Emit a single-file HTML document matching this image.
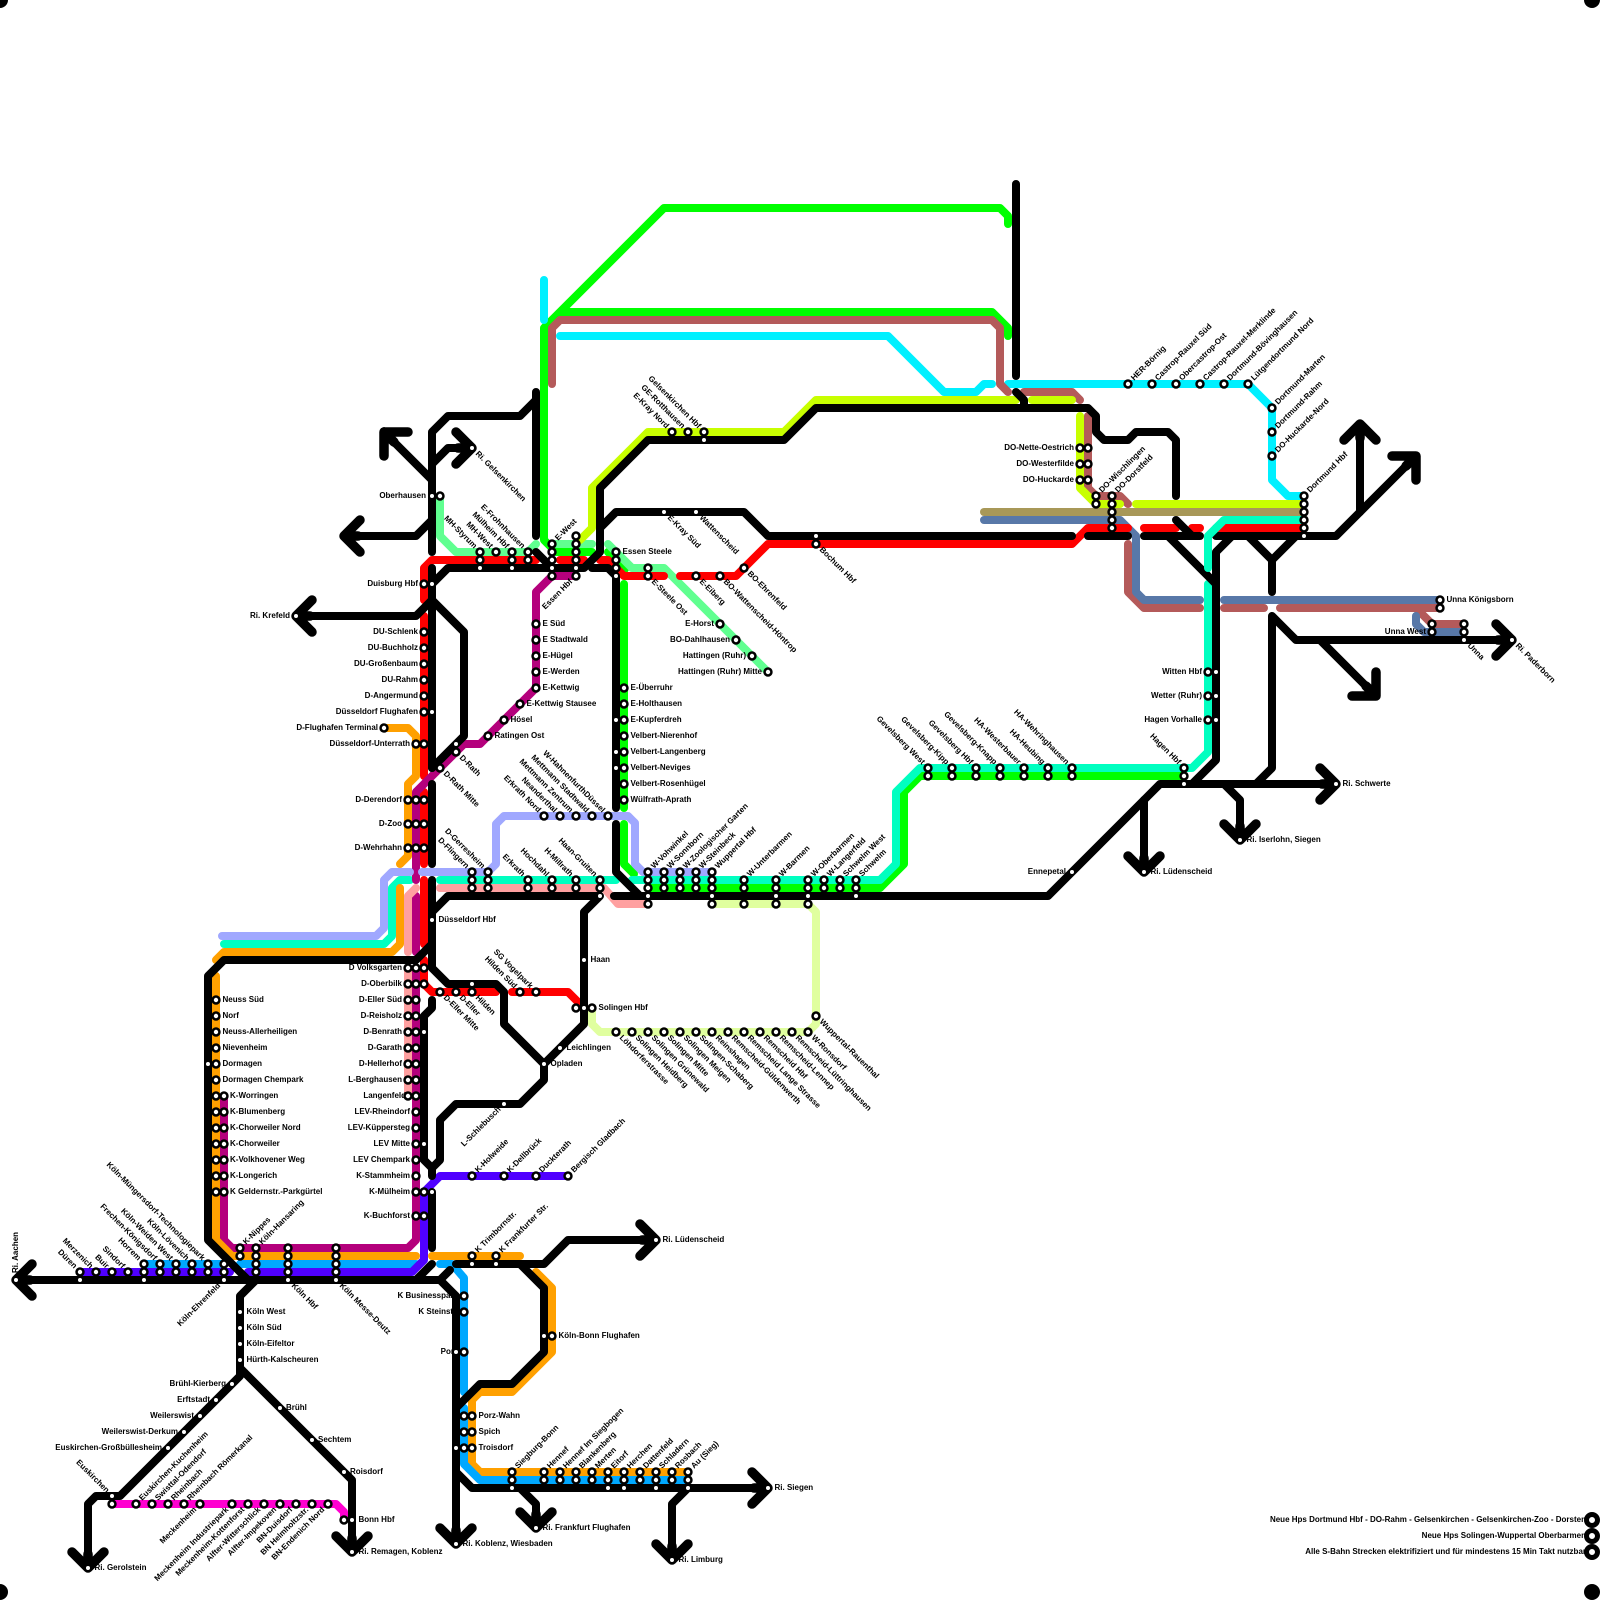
<!DOCTYPE html>
<html><head><meta charset="utf-8"><style>
html,body{margin:0;padding:0;background:#fff}
svg{display:block}
text{font-family:"Liberation Sans",sans-serif;font-weight:bold;font-size:8px;fill:#000;dominant-baseline:middle}
.e{text-anchor:end}
.l path{fill:none;stroke-width:8;stroke-linecap:round;stroke-linejoin:round}
.k path{stroke:#000}
.a path{fill:none;stroke:#000;stroke-width:9.5;stroke-linecap:round;stroke-linejoin:round}
.c circle{r:3.45px;fill:#fff;stroke:#000;stroke-width:2.5px}
.s circle{r:2.6px;fill:#fff;stroke:#000;stroke-width:1.2px}
</style></head><body>
<svg xmlns="http://www.w3.org/2000/svg" width="1600" height="1600" viewBox="0 0 1600 1600">
<rect width="1600" height="1600" fill="#fff"/>
<!-- coloured lines -->
<g class="l">
<path stroke="#00ff00" d="M1008 224V216L1000 208H664L544 328V540L556 552H592M560 312H992L1008 328V336M608 552L625 569M624 584V808M624 824V864L634 874M648 888H880L904 864V792L920 776H1184"/>
<path stroke="#60ff90" d="M440 496V536L456 552H528L536 544M556 544H592M608 544L632 568H664L768 672"/>
<path stroke="#00f0ff" d="M544 280V320M560 336H888L944 392H976L984 384H992M1008 384H1248L1272 408V480L1288 496H1304"/>
<path stroke="#b45a5a" d="M552 384V328L560 320H992L1000 328V384L1008 392M1024 392H1072L1080 400M1088 416V488L1096 496H1120L1128 504M1128 544V592L1144 608H1200M1224 608H1264M1280 608H1440M1416 608L1432 624H1464"/>
<path stroke="#c8ff00" d="M580 540L592 528V488L648 432H784L816 400H1016M1032 400H1072M1080 416V488L1096 504H1120M1136 504H1304"/>
<path stroke="#a89858" d="M984 512H1304"/>
<path stroke="#5878a8" d="M984 520H1120L1136 536V592L1144 600H1200M1224 600H1440M1416 616V624L1424 632H1464"/>
<path stroke="#00ffc0" d="M1208 584V752L1192 768H920L896 792V864L880 880H632M616 880H440M410 880H400L392 888V936L384 944H224"/>
<path stroke="#ff0000" d="M424 600V568L432 560H536M560 560H584M600 560H608L624 576H664M680 576H736L768 544H1072L1088 528H1128M1144 528H1176M1192 528H1200M1216 528H1304M424 616V776M424 792V864M424 880V944M424 960V984L432 992H496M512 992H568L580 1004"/>
<path stroke="#b4007c" d="M576 576H552L536 592V688L480 744H464L416 792V880M416 896V952M416 968V1240L408 1248H232L224 1240V1096"/>
<path stroke="#ffa000" d="M384 728H408L416 736V776L408 784V856L400 864M400 888V944L392 952H224L216 960M216 976V1240L232 1256H416M432 1256H520M536 1272L552 1288V1352L512 1392H480L472 1400V1464L480 1472H688"/>
<path stroke="#00a8ff" d="M144 1264H224M240 1264H416M440 1264H452L464 1278V1392M464 1408V1464L480 1480H688"/>
<path stroke="#5000ff" d="M80 1272H230M248 1272H412L424 1260V1192L440 1176H568"/>
<path stroke="#a0a8ff" d="M222 936H376L384 928V880L392 872H410M422 872H488L496 864V824L504 816H628L635 823V864L643 872H712"/>
<path stroke="#ffa0a0" d="M416 888L408 896V952M408 968V1096M440 888H604L618 904H648"/>
<path stroke="#e0ff9f" d="M592 1008V1024L600 1032H808L816 1024V912L808 904H712"/>
<path stroke="#ff00d0" d="M112 1504H336L344 1512V1520"/>
</g>
<!-- labels -->
<g>
<text transform="translate(16 1280)rotate(-90)" x="7">Ri. Aachen</text>
<text class="e" transform="translate(80 1272)rotate(45)" x="-6.5">Düren</text>
<text class="e" transform="translate(96 1272)rotate(45)" x="-6.5">Merzenich</text>
<text class="e" transform="translate(112 1272)rotate(45)" x="-6.5">Buir</text>
<text class="e" transform="translate(128 1272)rotate(45)" x="-6.5">Sindorf</text>
<text class="e" transform="translate(144 1264)rotate(45)" x="-6.5">Horrem</text>
<text class="e" transform="translate(160 1264)rotate(45)" x="-6.5">Frechen-Königsdorf</text>
<text class="e" transform="translate(176 1264)rotate(45)" x="-6.5">Köln-Weiden West</text>
<text class="e" transform="translate(192 1264)rotate(45)" x="-6.5">Köln-Lövenich</text>
<text class="e" transform="translate(208 1264)rotate(45)" x="-6.5">Köln-Müngersdorf-Technologiepark</text>
<text class="e" transform="translate(224 1280)rotate(-45)" x="-6.5">Köln-Ehrenfeld</text>
<text transform="translate(240 1248)rotate(-45)" x="6.5">K-Nippes</text>
<text transform="translate(256 1248)rotate(-45)" x="6.5">Köln-Hansaring</text>
<text transform="translate(288 1280)rotate(45)" x="6.5">Köln Hbf</text>
<text transform="translate(336 1280)rotate(45)" x="6.5">Köln Messe-Deutz</text>
<text x="246.500" y="1312">Köln West</text>
<text x="246.500" y="1328">Köln Süd</text>
<text x="246.500" y="1344">Köln-Eifeltor</text>
<text x="246.500" y="1360">Hürth-Kalscheuren</text>
<text class="e" x="226" y="1384">Brühl-Kierberg</text>
<text class="e" x="210" y="1400">Erftstadt</text>
<text class="e" x="194" y="1416">Weilerswist</text>
<text class="e" x="178" y="1432">Weilerswist-Derkum</text>
<text class="e" x="162" y="1448">Euskirchen-Großbüllesheim</text>
<text x="286" y="1408">Brühl</text>
<text x="318" y="1440">Sechtem</text>
<text x="350" y="1472">Roisdorf</text>
<text class="e" transform="translate(112 1496)rotate(45)" x="-6">Euskirchen</text>
<text transform="translate(136 1504)rotate(-45)" x="6.5">Euskirchen-Kuchenheim</text>
<text transform="translate(152 1504)rotate(-45)" x="6.5">Swisttal-Odendorf</text>
<text transform="translate(168 1504)rotate(-45)" x="6.5">Rheinbach</text>
<text transform="translate(184 1504)rotate(-45)" x="6.5">Rheinbach Römerkanal</text>
<text class="e" transform="translate(200 1504)rotate(-45)" x="-6.5">Meckenheim</text>
<text class="e" transform="translate(232 1504)rotate(-45)" x="-6.5">Meckenheim Industriepark</text>
<text class="e" transform="translate(248 1504)rotate(-45)" x="-6.5">Meckenheim-Kottenforst</text>
<text class="e" transform="translate(264 1504)rotate(-45)" x="-6.5">Alfter-Witterschlick</text>
<text class="e" transform="translate(280 1504)rotate(-45)" x="-6.5">Alfter-Impekoven</text>
<text class="e" transform="translate(296 1504)rotate(-45)" x="-6.5">BN-Duisdorf</text>
<text class="e" transform="translate(312 1504)rotate(-45)" x="-6.5">BN Helmholtzstr.</text>
<text class="e" transform="translate(328 1504)rotate(-45)" x="-6.5">BN-Endenich Nord</text>
<text x="358.500" y="1520">Bonn Hbf</text>
<text x="358.500" y="1552">Ri. Remagen, Koblenz</text>
<text x="94.500" y="1568">Ri. Gerolstein</text>
<text x="222.500" y="1000">Neuss Süd</text>
<text x="222.500" y="1016">Norf</text>
<text x="222.500" y="1032">Neuss-Allerheiligen</text>
<text x="222.500" y="1048">Nievenheim</text>
<text x="222.500" y="1064">Dormagen</text>
<text x="222.500" y="1080">Dormagen Chempark</text>
<text x="230" y="1096">K-Worringen</text>
<text x="230" y="1112">K-Blumenberg</text>
<text x="230" y="1128">K-Chorweiler Nord</text>
<text x="230" y="1144">K-Chorweiler</text>
<text x="230" y="1160">K-Volkhovener Weg</text>
<text x="230" y="1176">K-Longerich</text>
<text x="230" y="1192">K Geldernstr.-Parkgürtel</text>
<text class="e" x="418" y="632">DU-Schlenk</text>
<text class="e" x="418" y="648">DU-Buchholz</text>
<text class="e" x="418" y="664">DU-Großenbaum</text>
<text class="e" x="418" y="680">DU-Rahm</text>
<text class="e" x="418" y="696">D-Angermund</text>
<text class="e" x="418" y="712">Düsseldorf Flughafen</text>
<text class="e" x="378" y="728">D-Flughafen Terminal</text>
<text class="e" x="410" y="744">Düsseldorf-Unterrath</text>
<text class="e" x="402" y="800">D-Derendorf</text>
<text class="e" x="402" y="824">D-Zoo</text>
<text class="e" x="402" y="848">D-Wehrhahn</text>
<text class="e" x="402" y="968">D Volksgarten</text>
<text class="e" x="402" y="984">D-Oberbilk</text>
<text class="e" x="402" y="1000">D-Eller Süd</text>
<text class="e" x="402" y="1016">D-Reisholz</text>
<text class="e" x="402" y="1032">D-Benrath</text>
<text class="e" x="402" y="1048">D-Garath</text>
<text class="e" x="402" y="1064">D-Hellerhof</text>
<text class="e" x="402" y="1080">L-Berghausen</text>
<text class="e" x="406" y="1096">Langenfeld</text>
<text class="e" x="410" y="1112">LEV-Rheindorf</text>
<text class="e" x="410" y="1128">LEV-Küppersteg</text>
<text class="e" x="410" y="1144">LEV Mitte</text>
<text class="e" x="410" y="1160">LEV Chempark</text>
<text class="e" x="410" y="1176">K-Stammheim</text>
<text class="e" x="410" y="1192">K-Mülheim</text>
<text class="e" x="410" y="1216">K-Buchforst</text>
<text transform="translate(456 752)rotate(45)" x="6.5">D-Rath</text>
<text transform="translate(440 768)rotate(45)" x="6.5">D-Rath Mitte</text>
<text x="494.500" y="736">Ratingen Ost</text>
<text x="510.500" y="720">Hösel</text>
<text x="526.500" y="704">E-Kettwig Stausee</text>
<text x="542.500" y="688">E-Kettwig</text>
<text x="542.500" y="672">E-Werden</text>
<text x="542.500" y="656">E-Hügel</text>
<text x="542.500" y="640">E Stadtwald</text>
<text x="542.500" y="624">E Süd</text>
<text class="e" x="418" y="584">Duisburg Hbf</text>
<text class="e" x="426" y="496">Oberhausen</text>
<text class="e" x="290" y="616">Ri. Krefeld</text>
<text transform="translate(472 448)rotate(45)" x="6.500">Ri. Gelsenkirchen</text>
<text class="e" transform="translate(480 552)rotate(45)" x="-6.5">MH-Styrum</text>
<text class="e" transform="translate(496 552)rotate(45)" x="-6.5">MH-West</text>
<text class="e" transform="translate(512 552)rotate(45)" x="-6.5">Mülheim Hbf</text>
<text class="e" transform="translate(528 552)rotate(45)" x="-6.5">E-Frohnhausen</text>
<text transform="translate(552 544)rotate(-45)" x="6.5">E-West</text>
<text class="e" transform="translate(576 576)rotate(-45)" x="-6.5">Essen Hbf</text>
<text x="622.500" y="552">Essen Steele</text>
<text transform="translate(648 576)rotate(45)" x="6.5">E-Steele Ost</text>
<text transform="translate(696 576)rotate(45)" x="6.5">E-Eiberg</text>
<text transform="translate(720 576)rotate(45)" x="6.5">BO-Wattenscheid-Höntrop</text>
<text transform="translate(744 568)rotate(45)" x="6.5">BO-Ehrenfeld</text>
<text transform="translate(816 544)rotate(45)" x="6.5">Bochum Hbf</text>
<text transform="translate(664 512)rotate(45)" x="6.5">E-Kray Süd</text>
<text transform="translate(696 512)rotate(45)" x="6.5">Wattenscheid</text>
<text class="e" x="714" y="624">E-Horst</text>
<text class="e" x="730" y="640">BO-Dahlhausen</text>
<text class="e" x="746" y="656">Hattingen (Ruhr)</text>
<text class="e" x="762" y="672">Hattingen (Ruhr) Mitte</text>
<text class="e" transform="translate(672 432)rotate(45)" x="-6.5">E-Kray Nord</text>
<text class="e" transform="translate(688 432)rotate(45)" x="-6.5">GE-Rotthausen</text>
<text class="e" transform="translate(704 432)rotate(45)" x="-6.5">Gelsenkirchen Hbf</text>
<text x="630.500" y="688">E-Überruhr</text>
<text x="630.500" y="704">E-Holthausen</text>
<text x="630.500" y="720">E-Kupferdreh</text>
<text x="630.500" y="736">Velbert-Nierenhof</text>
<text x="630.500" y="752">Velbert-Langenberg</text>
<text x="630.500" y="768">Velbert-Neviges</text>
<text x="630.500" y="784">Velbert-Rosenhügel</text>
<text x="630.500" y="800">Wülfrath-Aprath</text>
<text class="e" transform="translate(544 816)rotate(45)" x="-6.5">Erkrath Nord</text>
<text class="e" transform="translate(560 816)rotate(45)" x="-6.5">Neanderthal</text>
<text class="e" transform="translate(576 816)rotate(45)" x="-6.5">Mettmann Zentrum</text>
<text class="e" transform="translate(592 816)rotate(45)" x="-6.5">Mettmann Stadtwald</text>
<text class="e" transform="translate(608 816)rotate(45)" x="-6.5">W-HahnenfurthDüssel</text>
<text class="e" transform="translate(472 872)rotate(45)" x="-6.5">D-Flingern</text>
<text class="e" transform="translate(488 872)rotate(45)" x="-6.5">D-Gerresheim</text>
<text class="e" transform="translate(528 880)rotate(45)" x="-6.5">Erkrath</text>
<text class="e" transform="translate(552 880)rotate(45)" x="-6.5">Hochdahl</text>
<text class="e" transform="translate(576 880)rotate(45)" x="-6.5">H-Millrath</text>
<text class="e" transform="translate(600 880)rotate(45)" x="-6.5">Haan-Gruiten</text>
<text x="438.500" y="920">Düsseldorf Hbf</text>
<text x="590.500" y="960">Haan</text>
<text x="598.500" y="1008">Solingen Hbf</text>
<text x="566.500" y="1048">Leichlingen</text>
<text x="550.500" y="1064">Opladen</text>
<text class="e" transform="translate(504 1104)rotate(-45)" x="-6">L-Schlebusch</text>
<text transform="translate(440 992)rotate(45)" x="6.5">D-Eller Mitte</text>
<text transform="translate(456 992)rotate(45)" x="6.5">D-Eller</text>
<text transform="translate(472 992)rotate(45)" x="6.5">Hilden</text>
<text class="e" transform="translate(520 992)rotate(45)" x="-6.5">Hilden Süd</text>
<text class="e" transform="translate(536 992)rotate(45)" x="-6.5">SG Vogelpark</text>
<text transform="translate(472 1176)rotate(-45)" x="6.5">K-Holweide</text>
<text transform="translate(504 1176)rotate(-45)" x="6.5">K-Dellbrück</text>
<text transform="translate(536 1176)rotate(-45)" x="6.5">Duckterath</text>
<text transform="translate(568 1176)rotate(-45)" x="6.5">Bergisch Gladbach</text>
<text transform="translate(648 872)rotate(-45)" x="6.5">W-Vohwinkel</text>
<text transform="translate(664 872)rotate(-45)" x="6.5">W-Sonnborn</text>
<text transform="translate(680 872)rotate(-45)" x="6.5">W-Zoologischer Garten</text>
<text transform="translate(696 872)rotate(-45)" x="6.5">W-Steinbeck</text>
<text transform="translate(712 872)rotate(-45)" x="6.5">Wuppertal Hbf</text>
<text transform="translate(744 880)rotate(-45)" x="6.5">W-Unterbarmen</text>
<text transform="translate(776 880)rotate(-45)" x="6.5">W-Barmen</text>
<text transform="translate(808 880)rotate(-45)" x="6.5">W-Oberbarmen</text>
<text transform="translate(824 880)rotate(-45)" x="6.5">W-Langerfeld</text>
<text transform="translate(840 880)rotate(-45)" x="6.5">Schwelm West</text>
<text transform="translate(856 880)rotate(-45)" x="6.5">Schwelm</text>
<text transform="translate(616 1032)rotate(45)" x="6.5">Löhdorferstrasse</text>
<text transform="translate(632 1032)rotate(45)" x="6.5">Solingen Heidberg</text>
<text transform="translate(648 1032)rotate(45)" x="6.5">Solingen Grünewald</text>
<text transform="translate(664 1032)rotate(45)" x="6.5">Solingen Mitte</text>
<text transform="translate(680 1032)rotate(45)" x="6.5">Solingen Meigen</text>
<text transform="translate(696 1032)rotate(45)" x="6.5">Solingen-Schaberg</text>
<text transform="translate(712 1032)rotate(45)" x="6.5">Reinshagen</text>
<text transform="translate(728 1032)rotate(45)" x="6.5">Remscheid-Güldenwerth</text>
<text transform="translate(744 1032)rotate(45)" x="6.5">Remscheid Lange Strasse</text>
<text transform="translate(760 1032)rotate(45)" x="6.5">Remscheid Hbf</text>
<text transform="translate(776 1032)rotate(45)" x="6.5">Remscheid-Lennep</text>
<text transform="translate(792 1032)rotate(45)" x="6.5">Remscheid-Lüttringhausen</text>
<text transform="translate(808 1032)rotate(45)" x="6.5">W-Ronsdorf</text>
<text transform="translate(816 1016)rotate(45)" x="6.5">Wuppertal-Rauenthal</text>
<text class="e" transform="translate(928 768)rotate(45)" x="-6.5">Gevelsberg West</text>
<text class="e" transform="translate(952 768)rotate(45)" x="-6.5">Gevelsberg-Kipp</text>
<text class="e" transform="translate(976 768)rotate(45)" x="-6.5">Gevelsberg Hbf</text>
<text class="e" transform="translate(1000 768)rotate(45)" x="-6.5">Gevelsberg-Knapp</text>
<text class="e" transform="translate(1024 768)rotate(45)" x="-6.5">HA-Westerbauer</text>
<text class="e" transform="translate(1048 768)rotate(45)" x="-6.5">HA-Heubing</text>
<text class="e" transform="translate(1072 768)rotate(45)" x="-6.5">HA-Wehringhausen</text>
<text class="e" transform="translate(1184 768)rotate(45)" x="-6.5">Hagen Hbf</text>
<text class="e" x="1066" y="872">Ennepetal</text>
<text x="1150.500" y="872">Ri. Lüdenscheid</text>
<text x="1246.500" y="840">Ri. Iserlohn, Siegen</text>
<text x="1342.500" y="784">Ri. Schwerte</text>
<text class="e" x="1202" y="672">Witten Hbf</text>
<text class="e" x="1202" y="696">Wetter (Ruhr)</text>
<text class="e" x="1202" y="720">Hagen Vorhalle</text>
<text x="1446.500" y="600">Unna Königsborn</text>
<text class="e" x="1426" y="632">Unna West</text>
<text transform="translate(1464 640)rotate(45)" x="6.500">Unna</text>
<text transform="translate(1512 640)rotate(45)" x="6.500">Ri. Paderborn</text>
<text class="e" x="1074" y="448">DO-Nette-Oestrich</text>
<text class="e" x="1074" y="464">DO-Westerfilde</text>
<text class="e" x="1074" y="480">DO-Huckarde</text>
<text transform="translate(1096 496)rotate(-45)" x="6.5">DO-Wischlingen</text>
<text transform="translate(1112 496)rotate(-45)" x="6.5">DO-Dorstfeld</text>
<text transform="translate(1304 496)rotate(-45)" x="6.5">Dortmund Hbf</text>
<text transform="translate(1128 384)rotate(-45)" x="6.5">HER-Börnig</text>
<text transform="translate(1152 384)rotate(-45)" x="6.5">Castrop-Rauxel Süd</text>
<text transform="translate(1176 384)rotate(-45)" x="6.5">Obercastrop-Ost</text>
<text transform="translate(1200 384)rotate(-45)" x="6.5">Castrop-Rauxel-Merklinde</text>
<text transform="translate(1224 384)rotate(-45)" x="6.5">Dortmund-Bövinghausen</text>
<text transform="translate(1248 384)rotate(-45)" x="6.5">Lütgendortmund Nord</text>
<text transform="translate(1272 408)rotate(-45)" x="6.5">Dortmund-Marten</text>
<text transform="translate(1272 432)rotate(-45)" x="6.5">Dortmund-Rahm</text>
<text transform="translate(1272 456)rotate(-45)" x="6.5">DO-Huckarde-Nord</text>
<text transform="translate(472 1256)rotate(-45)" x="6.5">K Trimbornstr.</text>
<text transform="translate(496 1256)rotate(-45)" x="6.5">K Frankfurter Str.</text>
<text x="662.500" y="1240">Ri. Lüdenscheid</text>
<text class="e" x="458" y="1296">K Businesspark</text>
<text class="e" x="458" y="1312">K Steinstr.</text>
<text class="e" x="458" y="1352">Porz</text>
<text x="558.500" y="1336">Köln-Bonn Flughafen</text>
<text x="478.500" y="1416">Porz-Wahn</text>
<text x="478.500" y="1432">Spich</text>
<text x="478.500" y="1448">Troisdorf</text>
<text transform="translate(512 1472)rotate(-45)" x="6.5">Siegburg-Bonn</text>
<text transform="translate(544 1472)rotate(-45)" x="6.5">Hennef</text>
<text transform="translate(560 1472)rotate(-45)" x="6.5">Hennef Im Siegbogen</text>
<text transform="translate(576 1472)rotate(-45)" x="6.5">Blankenberg</text>
<text transform="translate(592 1472)rotate(-45)" x="6.5">Merten</text>
<text transform="translate(608 1472)rotate(-45)" x="6.5">Eitorf</text>
<text transform="translate(624 1472)rotate(-45)" x="6.5">Herchen</text>
<text transform="translate(640 1472)rotate(-45)" x="6.5">Dattenfeld</text>
<text transform="translate(656 1472)rotate(-45)" x="6.5">Schladern</text>
<text transform="translate(672 1472)rotate(-45)" x="6.5">Rosbach</text>
<text transform="translate(688 1472)rotate(-45)" x="6.5">Au (Sieg)</text>
<text x="774.500" y="1488">Ri. Siegen</text>
<text x="542.500" y="1528">Ri. Frankfurt Flughafen</text>
<text x="678.500" y="1560">Ri. Limburg</text>
<text x="462.500" y="1544">Ri. Koblenz, Wiesbaden</text>
<text class="e" x="1586" y="1520">Neue Hps Dortmund Hbf - DO-Rahm - Gelsenkirchen - Gelsenkirchen-Zoo - Dorsten</text>
<text class="e" x="1586" y="1536">Neue Hps Solingen-Wuppertal Oberbarmen</text>
<text class="e" x="1586" y="1552">Alle S-Bahn Strecken elektrifiziert und für mindestens 15 Min Takt nutzbar</text>
</g>
<!-- black lines -->
<g class="l k">
<path d="M16 1280H440L456 1296V1544"/>
<path d="M208 976V1240L250 1282M208 976L224 960H416L432 944"/>
<path d="M256 1280L240 1296V1376L120 1496H96L88 1504V1568M240 1368L352 1480V1552"/>
<path d="M416 1280L432 1264M440 1280L450 1270M456 1264H544L568 1240H656M520 1264L544 1288V1352L512 1384H480L456 1408"/>
<path d="M456 1472L472 1488H768M520 1488L536 1504V1528M688 1488L672 1504V1560"/>
<path d="M536 536V392M536 400L520 416H448L432 432V552M384 432L432 480M472 448H448L432 464M344 536H416L432 520"/>
<path d="M432 568V768M432 584L448 568H584L600 552M600 552V488L648 440H784L816 408H1088L1096 416V432L1104 440H1128L1136 432H1168L1176 440V496M592 568H608L616 576V808M536 552L552 568"/>
<path d="M296 616H416L432 600L464 632V736L432 768"/>
<path d="M432 784V864M432 880V968L448 984H496L504 992V1024L544 1064V1080L520 1104H456L440 1120V1160L432 1168V1176M432 1008V1000M432 1008L424 1016V1160L432 1168M432 1192V1248"/>
<path d="M432 912L448 896H600L584 912V1024L544 1064"/>
<path d="M616 824V872L640 896M614 896H1048L1160 784H1336M1192 784L1216 760V552L1232 536M1216 536H1336L1416 456"/>
<path d="M600 528L616 512H744L768 536H1072M1088 536H1128M1144 536H1200M1176 520L1192 536M1168 536L1216 584"/>
<path d="M1016 184V376M1016 392L1024 400V408"/>
<path d="M1360 512V424"/>
<path d="M1248 536L1272 560L1296 536M1272 560V592M1272 616V768L1256 784M1272 616L1296 640H1512M1320 640L1376 696"/>
<path d="M1144 800V872M1224 784L1240 800V840"/>
</g>
<!-- mint passing over black at Witten junction -->
<g class="l"><path stroke="#00ffc0" d="M1208 568V536L1224 520H1304"/></g>
<!-- arrowheads -->
<g class="a">
<path d="M32 1264L16 1280L32 1296M16 1280H30"/>
<path d="M440 1528L456 1544L472 1528M456 1544V1530"/>
<path d="M72 1552L88 1568L104 1552M88 1568V1554"/>
<path d="M336 1536L352 1552L368 1536M352 1552V1538"/>
<path d="M640 1224L656 1240L640 1256M656 1240H642"/>
<path d="M752 1472L768 1488L752 1504M768 1488H754"/>
<path d="M520 1512L536 1528L552 1512M536 1528V1514"/>
<path d="M656 1544L672 1560L688 1544M672 1560V1546"/>
<path d="M408 432H384V456M384 432L394 442"/>
<path d="M456 432L472 448L456 464M472 448H458"/>
<path d="M360 520L344 536L360 552M344 536H358"/>
<path d="M312 600L296 616L312 632M296 616H310"/>
<path d="M1320 768L1336 784L1320 800M1336 784H1322"/>
<path d="M1392 456H1416V480M1416 456L1406 466"/>
<path d="M1344 440L1360 424L1376 440M1360 424V438"/>
<path d="M1496 624L1512 640L1496 656M1512 640H1498"/>
<path d="M1352 696H1376V672M1376 696L1366 686"/>
<path d="M1128 856L1144 872L1160 856M1144 872V858"/>
<path d="M1224 824L1240 840L1256 824M1240 840V826"/>
</g>
<!-- coloured stations -->
<g class="c">
<circle cx="80" cy="1272"/><circle cx="96" cy="1272"/><circle cx="112" cy="1272"/><circle cx="128" cy="1272"/>
<circle cx="144" cy="1264"/><circle cx="144" cy="1272"/><circle cx="160" cy="1264"/><circle cx="160" cy="1272"/><circle cx="176" cy="1264"/><circle cx="176" cy="1272"/><circle cx="192" cy="1264"/><circle cx="192" cy="1272"/><circle cx="208" cy="1264"/><circle cx="208" cy="1272"/><circle cx="224" cy="1264"/><circle cx="224" cy="1272"/>
<circle cx="240" cy="1248"/><circle cx="240" cy="1256"/>
<circle cx="256" cy="1248"/><circle cx="256" cy="1256"/><circle cx="256" cy="1264"/><circle cx="256" cy="1272"/>
<circle cx="288" cy="1248"/><circle cx="288" cy="1256"/><circle cx="288" cy="1264"/><circle cx="288" cy="1272"/>
<circle cx="336" cy="1248"/><circle cx="336" cy="1256"/><circle cx="336" cy="1264"/><circle cx="336" cy="1272"/>
<circle cx="112" cy="1504"/><circle cx="136" cy="1504"/><circle cx="152" cy="1504"/><circle cx="168" cy="1504"/><circle cx="184" cy="1504"/><circle cx="200" cy="1504"/><circle cx="232" cy="1504"/><circle cx="248" cy="1504"/><circle cx="264" cy="1504"/><circle cx="280" cy="1504"/><circle cx="296" cy="1504"/><circle cx="312" cy="1504"/><circle cx="328" cy="1504"/><circle cx="344" cy="1520"/>
<circle cx="216" cy="1000"/><circle cx="216" cy="1016"/><circle cx="216" cy="1032"/><circle cx="216" cy="1048"/><circle cx="216" cy="1064"/><circle cx="216" cy="1080"/>
<circle cx="216" cy="1096"/><circle cx="224" cy="1096"/><circle cx="216" cy="1112"/><circle cx="224" cy="1112"/><circle cx="216" cy="1128"/><circle cx="224" cy="1128"/><circle cx="216" cy="1144"/><circle cx="224" cy="1144"/><circle cx="216" cy="1160"/><circle cx="224" cy="1160"/><circle cx="216" cy="1176"/><circle cx="224" cy="1176"/><circle cx="216" cy="1192"/><circle cx="224" cy="1192"/>
<circle cx="424" cy="584"/><circle cx="424" cy="632"/><circle cx="424" cy="648"/><circle cx="424" cy="664"/><circle cx="424" cy="680"/><circle cx="424" cy="696"/><circle cx="424" cy="712"/><circle cx="384" cy="728"/><circle cx="416" cy="744"/><circle cx="424" cy="744"/>
<circle cx="408" cy="800"/><circle cx="416" cy="800"/><circle cx="424" cy="800"/><circle cx="408" cy="824"/><circle cx="416" cy="824"/><circle cx="424" cy="824"/><circle cx="408" cy="848"/><circle cx="416" cy="848"/><circle cx="424" cy="848"/>
<circle cx="408" cy="968"/><circle cx="416" cy="968"/><circle cx="424" cy="968"/><circle cx="408" cy="984"/><circle cx="416" cy="984"/><circle cx="424" cy="984"/>
<circle cx="408" cy="1000"/><circle cx="416" cy="1000"/><circle cx="408" cy="1016"/><circle cx="416" cy="1016"/><circle cx="408" cy="1032"/><circle cx="416" cy="1032"/><circle cx="408" cy="1048"/><circle cx="416" cy="1048"/><circle cx="408" cy="1064"/><circle cx="416" cy="1064"/><circle cx="408" cy="1080"/><circle cx="416" cy="1080"/><circle cx="408" cy="1096"/><circle cx="416" cy="1096"/>
<circle cx="416" cy="1112"/><circle cx="416" cy="1128"/><circle cx="416" cy="1144"/><circle cx="416" cy="1160"/><circle cx="416" cy="1176"/><circle cx="416" cy="1192"/><circle cx="424" cy="1192"/><circle cx="416" cy="1216"/><circle cx="424" cy="1216"/>
<circle cx="456" cy="752"/><circle cx="440" cy="768"/><circle cx="488" cy="736"/><circle cx="504" cy="720"/><circle cx="520" cy="704"/><circle cx="536" cy="688"/><circle cx="536" cy="672"/><circle cx="536" cy="656"/><circle cx="536" cy="640"/><circle cx="536" cy="624"/>
<circle cx="440" cy="496"/>
<circle cx="480" cy="552"/><circle cx="480" cy="560"/><circle cx="496" cy="552"/><circle cx="512" cy="552"/><circle cx="512" cy="560"/><circle cx="528" cy="552"/><circle cx="528" cy="560"/>
<circle cx="552" cy="544"/><circle cx="552" cy="552"/><circle cx="552" cy="560"/><circle cx="552" cy="576"/>
<circle cx="576" cy="536"/><circle cx="576" cy="544"/><circle cx="576" cy="552"/><circle cx="576" cy="560"/><circle cx="576" cy="576"/>
<circle cx="616" cy="552"/><circle cx="616" cy="560"/><circle cx="616" cy="568"/>
<circle cx="648" cy="568"/><circle cx="648" cy="576"/><circle cx="696" cy="576"/><circle cx="720" cy="576"/><circle cx="744" cy="568"/><circle cx="816" cy="544"/>
<circle cx="720" cy="624"/><circle cx="736" cy="640"/><circle cx="752" cy="656"/><circle cx="768" cy="672"/>
<circle cx="672" cy="432"/><circle cx="688" cy="432"/><circle cx="704" cy="432"/>
<circle cx="624" cy="688"/><circle cx="624" cy="704"/><circle cx="624" cy="720"/><circle cx="624" cy="736"/><circle cx="624" cy="752"/><circle cx="624" cy="768"/><circle cx="624" cy="784"/><circle cx="624" cy="800"/>
<circle cx="544" cy="816"/><circle cx="560" cy="816"/><circle cx="576" cy="816"/><circle cx="592" cy="816"/><circle cx="608" cy="816"/>
<circle cx="472" cy="872"/><circle cx="472" cy="880"/><circle cx="472" cy="888"/><circle cx="488" cy="872"/><circle cx="488" cy="880"/><circle cx="488" cy="888"/>
<circle cx="528" cy="880"/><circle cx="528" cy="888"/><circle cx="552" cy="880"/><circle cx="552" cy="888"/><circle cx="576" cy="880"/><circle cx="576" cy="888"/><circle cx="600" cy="880"/><circle cx="600" cy="888"/>
<circle cx="648" cy="872"/><circle cx="648" cy="880"/><circle cx="648" cy="888"/><circle cx="648" cy="904"/>
<circle cx="664" cy="872"/><circle cx="664" cy="880"/><circle cx="664" cy="888"/><circle cx="680" cy="872"/><circle cx="680" cy="880"/><circle cx="680" cy="888"/><circle cx="696" cy="872"/><circle cx="696" cy="880"/><circle cx="696" cy="888"/>
<circle cx="712" cy="872"/><circle cx="712" cy="880"/><circle cx="712" cy="888"/><circle cx="712" cy="904"/>
<circle cx="744" cy="880"/><circle cx="744" cy="888"/><circle cx="744" cy="904"/><circle cx="776" cy="880"/><circle cx="776" cy="888"/><circle cx="776" cy="904"/><circle cx="808" cy="880"/><circle cx="808" cy="888"/><circle cx="808" cy="904"/>
<circle cx="824" cy="880"/><circle cx="824" cy="888"/><circle cx="840" cy="880"/><circle cx="840" cy="888"/><circle cx="856" cy="880"/><circle cx="856" cy="888"/>
<circle cx="440" cy="992"/><circle cx="456" cy="992"/><circle cx="472" cy="992"/><circle cx="520" cy="992"/><circle cx="536" cy="992"/><circle cx="576" cy="1008"/><circle cx="592" cy="1008"/>
<circle cx="616" cy="1032"/><circle cx="632" cy="1032"/><circle cx="648" cy="1032"/><circle cx="664" cy="1032"/><circle cx="680" cy="1032"/><circle cx="696" cy="1032"/><circle cx="712" cy="1032"/><circle cx="728" cy="1032"/><circle cx="744" cy="1032"/><circle cx="760" cy="1032"/><circle cx="776" cy="1032"/><circle cx="792" cy="1032"/><circle cx="808" cy="1032"/><circle cx="816" cy="1016"/>
<circle cx="472" cy="1176"/><circle cx="504" cy="1176"/><circle cx="536" cy="1176"/><circle cx="568" cy="1176"/>
<circle cx="928" cy="768"/><circle cx="928" cy="776"/><circle cx="952" cy="768"/><circle cx="952" cy="776"/><circle cx="976" cy="768"/><circle cx="976" cy="776"/><circle cx="1000" cy="768"/><circle cx="1000" cy="776"/><circle cx="1024" cy="768"/><circle cx="1024" cy="776"/><circle cx="1048" cy="768"/><circle cx="1048" cy="776"/><circle cx="1072" cy="768"/><circle cx="1072" cy="776"/><circle cx="1184" cy="768"/><circle cx="1184" cy="776"/>
<circle cx="1208" cy="672"/><circle cx="1208" cy="696"/><circle cx="1208" cy="720"/>
<circle cx="1440" cy="600"/><circle cx="1440" cy="608"/><circle cx="1432" cy="624"/><circle cx="1432" cy="632"/><circle cx="1464" cy="624"/><circle cx="1464" cy="632"/>
<circle cx="1080" cy="448"/><circle cx="1088" cy="448"/><circle cx="1080" cy="464"/><circle cx="1088" cy="464"/><circle cx="1080" cy="480"/><circle cx="1088" cy="480"/>
<circle cx="1096" cy="496"/><circle cx="1096" cy="504"/><circle cx="1112" cy="496"/><circle cx="1112" cy="504"/><circle cx="1112" cy="512"/><circle cx="1112" cy="520"/><circle cx="1112" cy="528"/>
<circle cx="1304" cy="496"/><circle cx="1304" cy="504"/><circle cx="1304" cy="512"/><circle cx="1304" cy="520"/><circle cx="1304" cy="528"/>
<circle cx="1128" cy="384"/><circle cx="1152" cy="384"/><circle cx="1176" cy="384"/><circle cx="1200" cy="384"/><circle cx="1224" cy="384"/><circle cx="1248" cy="384"/><circle cx="1272" cy="408"/><circle cx="1272" cy="432"/><circle cx="1272" cy="456"/>
<circle cx="472" cy="1256"/><circle cx="496" cy="1256"/>
<circle cx="464" cy="1296"/><circle cx="464" cy="1312"/><circle cx="464" cy="1352"/><circle cx="552" cy="1336"/>
<circle cx="464" cy="1416"/><circle cx="472" cy="1416"/><circle cx="464" cy="1432"/><circle cx="472" cy="1432"/><circle cx="464" cy="1448"/><circle cx="472" cy="1448"/>
<circle cx="512" cy="1472"/><circle cx="512" cy="1480"/><circle cx="544" cy="1472"/><circle cx="544" cy="1480"/><circle cx="560" cy="1472"/><circle cx="560" cy="1480"/><circle cx="576" cy="1472"/><circle cx="576" cy="1480"/><circle cx="592" cy="1472"/><circle cx="592" cy="1480"/><circle cx="608" cy="1472"/><circle cx="608" cy="1480"/><circle cx="624" cy="1472"/><circle cx="624" cy="1480"/><circle cx="640" cy="1472"/><circle cx="640" cy="1480"/><circle cx="656" cy="1472"/><circle cx="656" cy="1480"/><circle cx="672" cy="1472"/><circle cx="672" cy="1480"/><circle cx="688" cy="1472"/><circle cx="688" cy="1480"/>
</g>
<!-- small stations on black -->
<g class="s">
<circle cx="16" cy="1280"/><circle cx="80" cy="1280"/><circle cx="144" cy="1280"/><circle cx="224" cy="1280"/><circle cx="288" cy="1280"/><circle cx="336" cy="1280"/>
<circle cx="240" cy="1312"/><circle cx="240" cy="1328"/><circle cx="240" cy="1344"/><circle cx="240" cy="1360"/>
<circle cx="232" cy="1384"/><circle cx="216" cy="1400"/><circle cx="200" cy="1416"/><circle cx="184" cy="1432"/><circle cx="168" cy="1448"/><circle cx="280" cy="1408"/><circle cx="312" cy="1440"/><circle cx="344" cy="1472"/>
<circle cx="112" cy="1496"/><circle cx="352" cy="1520"/><circle cx="352" cy="1552"/><circle cx="88" cy="1568"/>
<circle cx="208" cy="1064"/><circle cx="432" cy="712"/><circle cx="456" cy="744"/><circle cx="432" cy="584"/><circle cx="432" cy="496"/><circle cx="296" cy="616"/><circle cx="472" cy="448"/>
<circle cx="480" cy="568"/><circle cx="512" cy="568"/><circle cx="552" cy="568"/><circle cx="576" cy="568"/><circle cx="616" cy="576"/>
<circle cx="816" cy="536"/><circle cx="664" cy="512"/><circle cx="696" cy="512"/><circle cx="704" cy="440"/>
<circle cx="616" cy="720"/><circle cx="616" cy="752"/><circle cx="616" cy="768"/>
<circle cx="600" cy="896"/><circle cx="648" cy="896"/><circle cx="712" cy="896"/><circle cx="776" cy="896"/><circle cx="808" cy="896"/><circle cx="856" cy="896"/>
<circle cx="432" cy="920"/><circle cx="424" cy="1032"/><circle cx="424" cy="1144"/><circle cx="432" cy="1192"/>
<circle cx="472" cy="984"/><circle cx="584" cy="960"/><circle cx="584" cy="1008"/><circle cx="560" cy="1048"/><circle cx="544" cy="1064"/><circle cx="504" cy="1104"/>
<circle cx="1184" cy="784"/><circle cx="1072" cy="872"/><circle cx="1144" cy="872"/><circle cx="1240" cy="840"/><circle cx="1336" cy="784"/>
<circle cx="1216" cy="672"/><circle cx="1216" cy="696"/><circle cx="1216" cy="720"/><circle cx="1464" cy="640"/><circle cx="1512" cy="640"/><circle cx="1304" cy="536"/>
<circle cx="472" cy="1264"/><circle cx="496" cy="1264"/><circle cx="656" cy="1240"/><circle cx="456" cy="1352"/><circle cx="544" cy="1336"/><circle cx="456" cy="1448"/>
<circle cx="512" cy="1488"/><circle cx="608" cy="1488"/><circle cx="624" cy="1488"/><circle cx="656" cy="1488"/><circle cx="688" cy="1488"/><circle cx="768" cy="1488"/><circle cx="536" cy="1528"/><circle cx="672" cy="1560"/><circle cx="456" cy="1544"/>
</g>
<!-- legend and corners -->
<circle cx="1592" cy="1520" r="5.5" fill="#fff" stroke="#000" stroke-width="5"/>
<circle cx="1592" cy="1536" r="5.5" fill="#fff" stroke="#000" stroke-width="5"/>
<circle cx="1592" cy="1552" r="5.5" fill="#fff" stroke="#000" stroke-width="5"/>
<circle cx="0" cy="0" r="8" fill="#000"/><circle cx="1592" cy="0" r="8" fill="#000"/><circle cx="0" cy="1592" r="8" fill="#000"/><circle cx="1592" cy="1592" r="8" fill="#000"/>
</svg>
</body></html>
